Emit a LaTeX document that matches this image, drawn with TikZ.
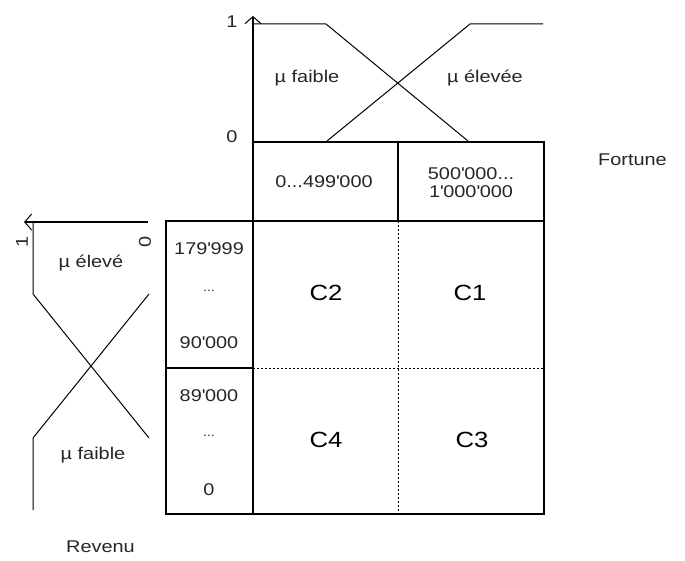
\documentclass[tikz,border=0pt]{standalone}
\usepackage{fontspec}
\setmainfont{Liberation Sans}[FakeStretch=1.17]
\usetikzlibrary{arrows.meta}
\newcommand{\qq}{\textquotesingle}
\begin{document}
\begin{tikzpicture}[x=1pt,y=-1pt,
  ln/.style={line width=1.3pt,black},
  cv/.style={line width=1pt,black},
  dsh/.style={line width=1pt,black,dash pattern=on 2pt off 2pt},
  ax/.style={line width=1.3pt,black,-{Straight Barb[length=7pt,width=16pt,line width=1pt]}},
  sm/.style={font=\fontsize{17}{19}\selectfont,inner sep=0pt,align=center,text=black!85},
  big/.style={font=\fontsize{22}{24}\selectfont,inner sep=0pt}]
\useasboundingbox (0,0) rectangle (685,561);
% table coordinates
\coordinate (A) at (253,142);
\coordinate (B) at (544,142);
\coordinate (M) at (398,142);
\coordinate (C) at (253,221);
\coordinate (D) at (544,221);
\coordinate (E) at (253,514);
\coordinate (F) at (544,514);
\coordinate (L1) at (166,221);
\coordinate (L2) at (166,514);
\coordinate (Lm) at (166,368);
\coordinate (Cm) at (253,368);
\coordinate (Dm) at (544,368);
\coordinate (Mt) at (398,221);
\coordinate (Mb) at (398,514);
% grid
\draw[ln] (A) rectangle (D);
\draw[ln] (M) -- (Mt);
\draw[ln] (C) rectangle (F);
\draw[ln] (L1) rectangle (E);
\draw[ln] (Lm) -- (Cm);
\draw[dsh] (Mt) -- (Mb);
\draw[dsh] (Cm) -- (Dm);
% top chart
\coordinate (T0) at (253,141);
\coordinate (Ttip) at (253,16);
\coordinate (Ta) at (253,24);
\coordinate (Tb) at (326,24);
\coordinate (Tc) at (468,141);
\coordinate (Td) at (327,141);
\coordinate (Te) at (470,24);
\coordinate (Tf) at (543,24);
\draw[ax] (T0) -- (Ttip);
\draw[cv] (Ta) -- (Tb) -- (Tc);
\draw[cv] (Td) -- (Te) -- (Tf);
\node[sm] (one1) at (232,22) {1};
\node[sm] (zero1) at (232,137) {0};
\node[sm] (mf1) at (307,78) {µ faible};
\node[sm] (me1) at (485,78) {µ élevée};
% left chart
\coordinate (S0) at (148,222);
\coordinate (Stip) at (24,222);
\coordinate (Sa) at (33,222);
\coordinate (Sb) at (33,294);
\coordinate (Sc) at (149,438);
\coordinate (Sd) at (149,294);
\coordinate (Se) at (33,438);
\coordinate (Sf) at (33,510);
\draw[ax] (S0) -- (Stip);
\draw[cv] (Sa) -- (Sb) -- (Sc);
\draw[cv] (Sd) -- (Se) -- (Sf);
\node[sm,rotate=90] (one2) at (22,242) {1};
\node[sm,rotate=90] (zero2) at (145,242) {0};
\node[sm] (me2) at (91,263) {µ élevé};
\node[sm] (mf2) at (93,455) {µ faible};
% texts
\node[sm] (h1) at (324,182) {0...499\qq000};
\node[sm,font=\fontsize{17}{18}\selectfont] (h2) at (471,183) {500\qq000...\\1\qq000\qq000};
\node[sm] (r1) at (209,249) {179\qq999};
\node[sm,font=\fontsize{12}{14}\selectfont] (r2) at (209,291) {...};
\node[sm] (r3) at (209,343) {90\qq000};
\node[sm] (r4) at (209,396) {89\qq000};
\node[sm,font=\fontsize{12}{14}\selectfont] (r5) at (209,436) {...};
\node[sm] (r6) at (209,490) {0};
\node[big] (c2) at (326,293) {C2};
\node[big] (c1) at (470,293) {C1};
\node[big] (c4) at (326,440) {C4};
\node[big] (c3) at (472,440) {C3};
\node[sm,anchor=west] (fort) at (598,160) {Fortune};
\node[sm,anchor=west] (rev) at (66,547) {Revenu};
\end{tikzpicture}
\end{document}
